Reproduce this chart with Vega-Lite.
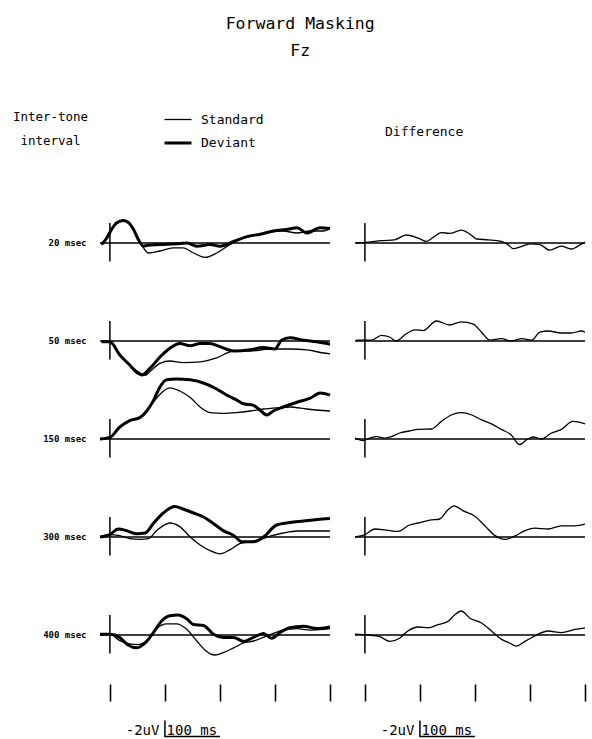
{
"$schema":"https://vega.github.io/schema/vega-lite/v6.json",
"background":"white",
"padding":{"left":12,"top":15,"right":5,"bottom":0},
"title":{"text":["Forward Masking","Fz"],"font":"DejaVu Sans Mono","fontSize":16.5,"fontWeight":"normal","color":"black","anchor":"middle","dx":0,"lineHeight":27,"offset":46},
"datasets":{
"waves":[
{"row":"20 msec","series":"Standard","ms":-15,"uV":0.2},{"row":"20 msec","series":"Standard","ms":-6,"uV":-0.6},{"row":"20 msec","series":"Standard","ms":3,"uV":-1.7},{"row":"20 msec","series":"Standard","ms":12,"uV":-2.4},{"row":"20 msec","series":"Standard","ms":24,"uV":-2.7},{"row":"20 msec","series":"Standard","ms":33,"uV":-2.5},{"row":"20 msec","series":"Standard","ms":43,"uV":-1.7},{"row":"20 msec","series":"Standard","ms":52,"uV":-0.4},{"row":"20 msec","series":"Standard","ms":61,"uV":0.6},{"row":"20 msec","series":"Standard","ms":70,"uV":1.25},{"row":"20 msec","series":"Standard","ms":91,"uV":1.0},{"row":"20 msec","series":"Standard","ms":115,"uV":0.6},{"row":"20 msec","series":"Standard","ms":133,"uV":0.6},{"row":"20 msec","series":"Standard","ms":152,"uV":1.25},{"row":"20 msec","series":"Standard","ms":173,"uV":1.8},{"row":"20 msec","series":"Standard","ms":194,"uV":1.25},{"row":"20 msec","series":"Standard","ms":218,"uV":0.2},{"row":"20 msec","series":"Standard","ms":243,"uV":-0.6},{"row":"20 msec","series":"Standard","ms":267,"uV":-1.0},{"row":"20 msec","series":"Standard","ms":291,"uV":-1.4},{"row":"20 msec","series":"Standard","ms":315,"uV":-1.5},{"row":"20 msec","series":"Standard","ms":340,"uV":-1.25},{"row":"20 msec","series":"Standard","ms":364,"uV":-1.5},{"row":"20 msec","series":"Standard","ms":388,"uV":-1.5},{"row":"20 msec","series":"Standard","ms":400,"uV":-1.8},
{"row":"20 msec","series":"Deviant","ms":-15,"uV":0.2},{"row":"20 msec","series":"Deviant","ms":-6,"uV":-0.6},{"row":"20 msec","series":"Deviant","ms":3,"uV":-1.7},{"row":"20 msec","series":"Deviant","ms":12,"uV":-2.5},{"row":"20 msec","series":"Deviant","ms":24,"uV":-2.8},{"row":"20 msec","series":"Deviant","ms":33,"uV":-2.6},{"row":"20 msec","series":"Deviant","ms":43,"uV":-1.7},{"row":"20 msec","series":"Deviant","ms":52,"uV":-0.4},{"row":"20 msec","series":"Deviant","ms":61,"uV":0.4},{"row":"20 msec","series":"Deviant","ms":67,"uV":0.3},{"row":"20 msec","series":"Deviant","ms":91,"uV":0.2},{"row":"20 msec","series":"Deviant","ms":121,"uV":0.1},{"row":"20 msec","series":"Deviant","ms":140,"uV":0},{"row":"20 msec","series":"Deviant","ms":158,"uV":0.4},{"row":"20 msec","series":"Deviant","ms":182,"uV":0.2},{"row":"20 msec","series":"Deviant","ms":200,"uV":0.4},{"row":"20 msec","series":"Deviant","ms":225,"uV":-0.2},{"row":"20 msec","series":"Deviant","ms":249,"uV":-0.8},{"row":"20 msec","series":"Deviant","ms":273,"uV":-1.1},{"row":"20 msec","series":"Deviant","ms":297,"uV":-1.5},{"row":"20 msec","series":"Deviant","ms":321,"uV":-1.7},{"row":"20 msec","series":"Deviant","ms":340,"uV":-1.9},{"row":"20 msec","series":"Deviant","ms":358,"uV":-1.25},{"row":"20 msec","series":"Deviant","ms":382,"uV":-1.9},{"row":"20 msec","series":"Deviant","ms":400,"uV":-1.8},
{"row":"50 msec","series":"Standard","ms":-15,"uV":0.1},{"row":"50 msec","series":"Standard","ms":0,"uV":0.1},{"row":"50 msec","series":"Standard","ms":18,"uV":1.75},{"row":"50 msec","series":"Standard","ms":36,"uV":3.0},{"row":"50 msec","series":"Standard","ms":55,"uV":4.0},{"row":"50 msec","series":"Standard","ms":64,"uV":4.3},{"row":"50 msec","series":"Standard","ms":73,"uV":3.8},{"row":"50 msec","series":"Standard","ms":91,"uV":2.8},{"row":"50 msec","series":"Standard","ms":109,"uV":2.5},{"row":"50 msec","series":"Standard","ms":133,"uV":2.7},{"row":"50 msec","series":"Standard","ms":164,"uV":2.6},{"row":"50 msec","series":"Standard","ms":194,"uV":2.1},{"row":"50 msec","series":"Standard","ms":225,"uV":1.25},{"row":"50 msec","series":"Standard","ms":255,"uV":1.25},{"row":"50 msec","series":"Standard","ms":291,"uV":1.0},{"row":"50 msec","series":"Standard","ms":327,"uV":1.0},{"row":"50 msec","series":"Standard","ms":358,"uV":1.1},{"row":"50 msec","series":"Standard","ms":388,"uV":1.5},{"row":"50 msec","series":"Standard","ms":400,"uV":1.6},
{"row":"50 msec","series":"Deviant","ms":-15,"uV":0.1},{"row":"50 msec","series":"Deviant","ms":0,"uV":0.1},{"row":"50 msec","series":"Deviant","ms":18,"uV":1.75},{"row":"50 msec","series":"Deviant","ms":36,"uV":3.0},{"row":"50 msec","series":"Deviant","ms":50,"uV":4.0},{"row":"50 msec","series":"Deviant","ms":58,"uV":4.25},{"row":"50 msec","series":"Deviant","ms":73,"uV":3.4},{"row":"50 msec","series":"Deviant","ms":91,"uV":2.0},{"row":"50 msec","series":"Deviant","ms":109,"uV":0.9},{"row":"50 msec","series":"Deviant","ms":127,"uV":0.3},{"row":"50 msec","series":"Deviant","ms":146,"uV":0.6},{"row":"50 msec","series":"Deviant","ms":164,"uV":0.3},{"row":"50 msec","series":"Deviant","ms":182,"uV":0.3},{"row":"50 msec","series":"Deviant","ms":200,"uV":0.7},{"row":"50 msec","series":"Deviant","ms":225,"uV":1.25},{"row":"50 msec","series":"Deviant","ms":255,"uV":1.1},{"row":"50 msec","series":"Deviant","ms":279,"uV":0.8},{"row":"50 msec","series":"Deviant","ms":300,"uV":1.0},{"row":"50 msec","series":"Deviant","ms":312,"uV":-0.1},{"row":"50 msec","series":"Deviant","ms":327,"uV":-0.4},{"row":"50 msec","series":"Deviant","ms":352,"uV":-0.1},{"row":"50 msec","series":"Deviant","ms":376,"uV":0.1},{"row":"50 msec","series":"Deviant","ms":400,"uV":0.4},
{"row":"150 msec","series":"Standard","ms":-18,"uV":0},{"row":"150 msec","series":"Standard","ms":0,"uV":-0.2},{"row":"150 msec","series":"Standard","ms":18,"uV":-1.5},{"row":"150 msec","series":"Standard","ms":36,"uV":-2.3},{"row":"150 msec","series":"Standard","ms":55,"uV":-2.7},{"row":"150 msec","series":"Standard","ms":67,"uV":-3.5},{"row":"150 msec","series":"Standard","ms":79,"uV":-4.6},{"row":"150 msec","series":"Standard","ms":91,"uV":-5.6},{"row":"150 msec","series":"Standard","ms":109,"uV":-6.4},{"row":"150 msec","series":"Standard","ms":127,"uV":-6.0},{"row":"150 msec","series":"Standard","ms":146,"uV":-5.2},{"row":"150 msec","series":"Standard","ms":164,"uV":-4.0},{"row":"150 msec","series":"Standard","ms":182,"uV":-3.3},{"row":"150 msec","series":"Standard","ms":206,"uV":-3.2},{"row":"150 msec","series":"Standard","ms":230,"uV":-3.3},{"row":"150 msec","series":"Standard","ms":255,"uV":-3.5},{"row":"150 msec","series":"Standard","ms":279,"uV":-3.75},{"row":"150 msec","series":"Standard","ms":303,"uV":-3.9},{"row":"150 msec","series":"Standard","ms":327,"uV":-4.0},{"row":"150 msec","series":"Standard","ms":358,"uV":-3.75},{"row":"150 msec","series":"Standard","ms":400,"uV":-3.5},
{"row":"150 msec","series":"Deviant","ms":-18,"uV":0},{"row":"150 msec","series":"Deviant","ms":0,"uV":-0.2},{"row":"150 msec","series":"Deviant","ms":18,"uV":-1.5},{"row":"150 msec","series":"Deviant","ms":36,"uV":-2.3},{"row":"150 msec","series":"Deviant","ms":55,"uV":-2.7},{"row":"150 msec","series":"Deviant","ms":67,"uV":-3.5},{"row":"150 msec","series":"Deviant","ms":79,"uV":-4.8},{"row":"150 msec","series":"Deviant","ms":91,"uV":-6.5},{"row":"150 msec","series":"Deviant","ms":103,"uV":-7.4},{"row":"150 msec","series":"Deviant","ms":121,"uV":-7.5},{"row":"150 msec","series":"Deviant","ms":146,"uV":-7.4},{"row":"150 msec","series":"Deviant","ms":170,"uV":-7.0},{"row":"150 msec","series":"Deviant","ms":194,"uV":-6.25},{"row":"150 msec","series":"Deviant","ms":212,"uV":-5.5},{"row":"150 msec","series":"Deviant","ms":230,"uV":-4.9},{"row":"150 msec","series":"Deviant","ms":243,"uV":-4.4},{"row":"150 msec","series":"Deviant","ms":261,"uV":-4.2},{"row":"150 msec","series":"Deviant","ms":273,"uV":-3.6},{"row":"150 msec","series":"Deviant","ms":285,"uV":-3.0},{"row":"150 msec","series":"Deviant","ms":297,"uV":-3.5},{"row":"150 msec","series":"Deviant","ms":315,"uV":-4.0},{"row":"150 msec","series":"Deviant","ms":340,"uV":-4.6},{"row":"150 msec","series":"Deviant","ms":364,"uV":-5.1},{"row":"150 msec","series":"Deviant","ms":382,"uV":-5.75},{"row":"150 msec","series":"Deviant","ms":400,"uV":-5.5},
{"row":"300 msec","series":"Standard","ms":-18,"uV":0},{"row":"300 msec","series":"Standard","ms":0,"uV":-0.3},{"row":"300 msec","series":"Standard","ms":15,"uV":-0.2},{"row":"300 msec","series":"Standard","ms":36,"uV":0.2},{"row":"300 msec","series":"Standard","ms":55,"uV":0.3},{"row":"300 msec","series":"Standard","ms":70,"uV":0.2},{"row":"300 msec","series":"Standard","ms":85,"uV":-0.8},{"row":"300 msec","series":"Standard","ms":109,"uV":-1.75},{"row":"300 msec","series":"Standard","ms":127,"uV":-1.3},{"row":"300 msec","series":"Standard","ms":146,"uV":0},{"row":"300 msec","series":"Standard","ms":164,"uV":1.0},{"row":"300 msec","series":"Standard","ms":182,"uV":1.7},{"row":"300 msec","series":"Standard","ms":200,"uV":2.1},{"row":"300 msec","series":"Standard","ms":218,"uV":1.6},{"row":"300 msec","series":"Standard","ms":237,"uV":0.8},{"row":"300 msec","series":"Standard","ms":255,"uV":0.6},{"row":"300 msec","series":"Standard","ms":273,"uV":0.3},{"row":"300 msec","series":"Standard","ms":291,"uV":-0.1},{"row":"300 msec","series":"Standard","ms":315,"uV":-0.5},{"row":"300 msec","series":"Standard","ms":340,"uV":-0.75},{"row":"300 msec","series":"Standard","ms":364,"uV":-0.75},{"row":"300 msec","series":"Standard","ms":400,"uV":-0.75},
{"row":"300 msec","series":"Deviant","ms":-18,"uV":0},{"row":"300 msec","series":"Deviant","ms":0,"uV":-0.3},{"row":"300 msec","series":"Deviant","ms":15,"uV":-1.0},{"row":"300 msec","series":"Deviant","ms":30,"uV":-0.8},{"row":"300 msec","series":"Deviant","ms":49,"uV":-0.4},{"row":"300 msec","series":"Deviant","ms":64,"uV":-0.5},{"row":"300 msec","series":"Deviant","ms":79,"uV":-1.7},{"row":"300 msec","series":"Deviant","ms":97,"uV":-3.0},{"row":"300 msec","series":"Deviant","ms":118,"uV":-3.8},{"row":"300 msec","series":"Deviant","ms":133,"uV":-3.5},{"row":"300 msec","series":"Deviant","ms":152,"uV":-3.0},{"row":"300 msec","series":"Deviant","ms":170,"uV":-2.5},{"row":"300 msec","series":"Deviant","ms":188,"uV":-1.7},{"row":"300 msec","series":"Deviant","ms":206,"uV":-0.8},{"row":"300 msec","series":"Deviant","ms":225,"uV":-0.2},{"row":"300 msec","series":"Deviant","ms":240,"uV":0.6},{"row":"300 msec","series":"Deviant","ms":261,"uV":0.6},{"row":"300 msec","series":"Deviant","ms":279,"uV":0},{"row":"300 msec","series":"Deviant","ms":303,"uV":-1.5},{"row":"300 msec","series":"Deviant","ms":327,"uV":-1.8},{"row":"300 msec","series":"Deviant","ms":352,"uV":-2.0},{"row":"300 msec","series":"Deviant","ms":376,"uV":-2.2},{"row":"300 msec","series":"Deviant","ms":400,"uV":-2.3},
{"row":"400 msec","series":"Standard","ms":-18,"uV":-0.1},{"row":"400 msec","series":"Standard","ms":0,"uV":-0.1},{"row":"400 msec","series":"Standard","ms":18,"uV":0.7},{"row":"400 msec","series":"Standard","ms":36,"uV":1.1},{"row":"400 msec","series":"Standard","ms":52,"uV":1.2},{"row":"400 msec","series":"Standard","ms":70,"uV":0.5},{"row":"400 msec","series":"Standard","ms":85,"uV":-0.8},{"row":"400 msec","series":"Standard","ms":103,"uV":-1.4},{"row":"400 msec","series":"Standard","ms":121,"uV":-1.4},{"row":"400 msec","series":"Standard","ms":140,"uV":-0.7},{"row":"400 msec","series":"Standard","ms":158,"uV":0.75},{"row":"400 msec","series":"Standard","ms":173,"uV":1.9},{"row":"400 msec","series":"Standard","ms":191,"uV":2.5},{"row":"400 msec","series":"Standard","ms":206,"uV":2.2},{"row":"400 msec","series":"Standard","ms":225,"uV":1.6},{"row":"400 msec","series":"Standard","ms":243,"uV":1.0},{"row":"400 msec","series":"Standard","ms":261,"uV":0.75},{"row":"400 msec","series":"Standard","ms":279,"uV":0.3},{"row":"400 msec","series":"Standard","ms":297,"uV":-0.2},{"row":"400 msec","series":"Standard","ms":315,"uV":-0.6},{"row":"400 msec","series":"Standard","ms":340,"uV":-0.8},{"row":"400 msec","series":"Standard","ms":364,"uV":-0.6},{"row":"400 msec","series":"Standard","ms":388,"uV":-0.7},{"row":"400 msec","series":"Standard","ms":400,"uV":-0.8},
{"row":"400 msec","series":"Deviant","ms":-18,"uV":-0.1},{"row":"400 msec","series":"Deviant","ms":0,"uV":-0.1},{"row":"400 msec","series":"Deviant","ms":18,"uV":0.3},{"row":"400 msec","series":"Deviant","ms":33,"uV":1.25},{"row":"400 msec","series":"Deviant","ms":49,"uV":1.6},{"row":"400 msec","series":"Deviant","ms":64,"uV":1.0},{"row":"400 msec","series":"Deviant","ms":79,"uV":-0.3},{"row":"400 msec","series":"Deviant","ms":94,"uV":-1.75},{"row":"400 msec","series":"Deviant","ms":109,"uV":-2.4},{"row":"400 msec","series":"Deviant","ms":124,"uV":-2.5},{"row":"400 msec","series":"Deviant","ms":140,"uV":-2.0},{"row":"400 msec","series":"Deviant","ms":152,"uV":-1.3},{"row":"400 msec","series":"Deviant","ms":170,"uV":-1.2},{"row":"400 msec","series":"Deviant","ms":188,"uV":-0.1},{"row":"400 msec","series":"Deviant","ms":206,"uV":0.3},{"row":"400 msec","series":"Deviant","ms":225,"uV":0.3},{"row":"400 msec","series":"Deviant","ms":243,"uV":0.8},{"row":"400 msec","series":"Deviant","ms":261,"uV":0.3},{"row":"400 msec","series":"Deviant","ms":279,"uV":-0.2},{"row":"400 msec","series":"Deviant","ms":294,"uV":0.4},{"row":"400 msec","series":"Deviant","ms":309,"uV":-0.3},{"row":"400 msec","series":"Deviant","ms":327,"uV":-0.9},{"row":"400 msec","series":"Deviant","ms":352,"uV":-1.1},{"row":"400 msec","series":"Deviant","ms":376,"uV":-0.8},{"row":"400 msec","series":"Deviant","ms":400,"uV":-1.0},
{"row":"20 msec","series":"Difference","ms":-16,"uV":0},{"row":"20 msec","series":"Difference","ms":6,"uV":-0.1},{"row":"20 msec","series":"Difference","ms":30,"uV":-0.3},{"row":"20 msec","series":"Difference","ms":54,"uV":-0.4},{"row":"20 msec","series":"Difference","ms":75,"uV":-1.0},{"row":"20 msec","series":"Difference","ms":97,"uV":-0.6},{"row":"20 msec","series":"Difference","ms":112,"uV":-0.2},{"row":"20 msec","series":"Difference","ms":124,"uV":-0.7},{"row":"20 msec","series":"Difference","ms":139,"uV":-1.3},{"row":"20 msec","series":"Difference","ms":154,"uV":-1.2},{"row":"20 msec","series":"Difference","ms":175,"uV":-1.6},{"row":"20 msec","series":"Difference","ms":191,"uV":-1.1},{"row":"20 msec","series":"Difference","ms":203,"uV":-0.5},{"row":"20 msec","series":"Difference","ms":224,"uV":-0.4},{"row":"20 msec","series":"Difference","ms":248,"uV":-0.2},{"row":"20 msec","series":"Difference","ms":260,"uV":0.2},{"row":"20 msec","series":"Difference","ms":269,"uV":0.7},{"row":"20 msec","series":"Difference","ms":284,"uV":0.45},{"row":"20 msec","series":"Difference","ms":300,"uV":0.1},{"row":"20 msec","series":"Difference","ms":318,"uV":0.2},{"row":"20 msec","series":"Difference","ms":336,"uV":0.9},{"row":"20 msec","series":"Difference","ms":357,"uV":0.4},{"row":"20 msec","series":"Difference","ms":375,"uV":0.75},{"row":"20 msec","series":"Difference","ms":394,"uV":0.1},{"row":"20 msec","series":"Difference","ms":400,"uV":-0.1},
{"row":"50 msec","series":"Difference","ms":-16,"uV":-0.1},{"row":"50 msec","series":"Difference","ms":12,"uV":-0.1},{"row":"50 msec","series":"Difference","ms":30,"uV":-0.7},{"row":"50 msec","series":"Difference","ms":45,"uV":-0.5},{"row":"50 msec","series":"Difference","ms":57,"uV":0},{"row":"50 msec","series":"Difference","ms":75,"uV":-0.9},{"row":"50 msec","series":"Difference","ms":91,"uV":-1.4},{"row":"50 msec","series":"Difference","ms":106,"uV":-1.3},{"row":"50 msec","series":"Difference","ms":130,"uV":-2.5},{"row":"50 msec","series":"Difference","ms":154,"uV":-2.0},{"row":"50 msec","series":"Difference","ms":175,"uV":-2.4},{"row":"50 msec","series":"Difference","ms":197,"uV":-2.1},{"row":"50 msec","series":"Difference","ms":212,"uV":-1.1},{"row":"50 msec","series":"Difference","ms":227,"uV":-0.1},{"row":"50 msec","series":"Difference","ms":248,"uV":-0.3},{"row":"50 msec","series":"Difference","ms":266,"uV":0},{"row":"50 msec","series":"Difference","ms":285,"uV":-0.3},{"row":"50 msec","series":"Difference","ms":303,"uV":-0.1},{"row":"50 msec","series":"Difference","ms":318,"uV":-1.1},{"row":"50 msec","series":"Difference","ms":333,"uV":-1.25},{"row":"50 msec","series":"Difference","ms":357,"uV":-1.0},{"row":"50 msec","series":"Difference","ms":375,"uV":-1.0},{"row":"50 msec","series":"Difference","ms":394,"uV":-1.25},{"row":"50 msec","series":"Difference","ms":400,"uV":-1.1},
{"row":"150 msec","series":"Difference","ms":-18,"uV":-0.1},{"row":"150 msec","series":"Difference","ms":-3,"uV":0.2},{"row":"150 msec","series":"Difference","ms":9,"uV":-0.1},{"row":"150 msec","series":"Difference","ms":21,"uV":-0.3},{"row":"150 msec","series":"Difference","ms":36,"uV":-0.1},{"row":"150 msec","series":"Difference","ms":48,"uV":-0.3},{"row":"150 msec","series":"Difference","ms":63,"uV":-0.75},{"row":"150 msec","series":"Difference","ms":81,"uV":-1.0},{"row":"150 msec","series":"Difference","ms":97,"uV":-1.2},{"row":"150 msec","series":"Difference","ms":121,"uV":-1.25},{"row":"150 msec","series":"Difference","ms":139,"uV":-2.2},{"row":"150 msec","series":"Difference","ms":157,"uV":-3.0},{"row":"150 msec","series":"Difference","ms":175,"uV":-3.3},{"row":"150 msec","series":"Difference","ms":194,"uV":-3.0},{"row":"150 msec","series":"Difference","ms":212,"uV":-2.4},{"row":"150 msec","series":"Difference","ms":230,"uV":-1.9},{"row":"150 msec","series":"Difference","ms":248,"uV":-1.2},{"row":"150 msec","series":"Difference","ms":266,"uV":-0.5},{"row":"150 msec","series":"Difference","ms":281,"uV":0.7},{"row":"150 msec","series":"Difference","ms":294,"uV":0.1},{"row":"150 msec","series":"Difference","ms":306,"uV":-0.25},{"row":"150 msec","series":"Difference","ms":321,"uV":0},{"row":"150 msec","series":"Difference","ms":339,"uV":-0.75},{"row":"150 msec","series":"Difference","ms":357,"uV":-1.2},{"row":"150 msec","series":"Difference","ms":378,"uV":-2.2},{"row":"150 msec","series":"Difference","ms":400,"uV":-1.9},
{"row":"300 msec","series":"Difference","ms":-18,"uV":0},{"row":"300 msec","series":"Difference","ms":0,"uV":-0.3},{"row":"300 msec","series":"Difference","ms":18,"uV":-1.0},{"row":"300 msec","series":"Difference","ms":36,"uV":-0.9},{"row":"300 msec","series":"Difference","ms":60,"uV":-0.7},{"row":"300 msec","series":"Difference","ms":81,"uV":-1.5},{"row":"300 msec","series":"Difference","ms":97,"uV":-1.75},{"row":"300 msec","series":"Difference","ms":118,"uV":-2.1},{"row":"300 msec","series":"Difference","ms":136,"uV":-2.25},{"row":"300 msec","series":"Difference","ms":151,"uV":-3.4},{"row":"300 msec","series":"Difference","ms":162,"uV":-3.9},{"row":"300 msec","series":"Difference","ms":178,"uV":-3.3},{"row":"300 msec","series":"Difference","ms":200,"uV":-2.6},{"row":"300 msec","series":"Difference","ms":218,"uV":-1.4},{"row":"300 msec","series":"Difference","ms":236,"uV":-0.2},{"row":"300 msec","series":"Difference","ms":254,"uV":0.3},{"row":"300 msec","series":"Difference","ms":272,"uV":-0.1},{"row":"300 msec","series":"Difference","ms":291,"uV":-0.8},{"row":"300 msec","series":"Difference","ms":309,"uV":-1.1},{"row":"300 msec","series":"Difference","ms":333,"uV":-1.0},{"row":"300 msec","series":"Difference","ms":357,"uV":-1.4},{"row":"300 msec","series":"Difference","ms":382,"uV":-1.4},{"row":"300 msec","series":"Difference","ms":400,"uV":-1.6},
{"row":"400 msec","series":"Difference","ms":-18,"uV":-0.1},{"row":"400 msec","series":"Difference","ms":6,"uV":0},{"row":"400 msec","series":"Difference","ms":27,"uV":0.2},{"row":"400 msec","series":"Difference","ms":45,"uV":0.8},{"row":"400 msec","series":"Difference","ms":63,"uV":0.4},{"row":"400 msec","series":"Difference","ms":78,"uV":-0.5},{"row":"400 msec","series":"Difference","ms":97,"uV":-1.0},{"row":"400 msec","series":"Difference","ms":115,"uV":-0.9},{"row":"400 msec","series":"Difference","ms":133,"uV":-1.3},{"row":"400 msec","series":"Difference","ms":151,"uV":-1.7},{"row":"400 msec","series":"Difference","ms":163,"uV":-2.5},{"row":"400 msec","series":"Difference","ms":175,"uV":-3.0},{"row":"400 msec","series":"Difference","ms":191,"uV":-2.1},{"row":"400 msec","series":"Difference","ms":212,"uV":-1.5},{"row":"400 msec","series":"Difference","ms":230,"uV":-0.5},{"row":"400 msec","series":"Difference","ms":245,"uV":0.4},{"row":"400 msec","series":"Difference","ms":263,"uV":1.0},{"row":"400 msec","series":"Difference","ms":275,"uV":1.4},{"row":"400 msec","series":"Difference","ms":291,"uV":0.8},{"row":"400 msec","series":"Difference","ms":309,"uV":0.1},{"row":"400 msec","series":"Difference","ms":333,"uV":-0.5},{"row":"400 msec","series":"Difference","ms":357,"uV":-0.3},{"row":"400 msec","series":"Difference","ms":382,"uV":-0.7},{"row":"400 msec","series":"Difference","ms":400,"uV":-0.9}
],
"base":[
{"row":"20 msec","ms":-18,"uV":0},{"row":"20 msec","ms":400,"uV":0},
{"row":"50 msec","ms":-18,"uV":0},{"row":"50 msec","ms":400,"uV":0},
{"row":"150 msec","ms":-18,"uV":0},{"row":"150 msec","ms":400,"uV":0},
{"row":"300 msec","ms":-18,"uV":0},{"row":"300 msec","ms":400,"uV":0},
{"row":"400 msec","ms":-18,"uV":0},{"row":"400 msec","ms":400,"uV":0}
],
"onset":[
{"row":"20 msec","ms":0,"uV":-2.5},{"row":"20 msec","ms":0,"uV":2.3},
{"row":"50 msec","ms":0,"uV":-2.5},{"row":"50 msec","ms":0,"uV":2.3},
{"row":"150 msec","ms":0,"uV":-2.5},{"row":"150 msec","ms":0,"uV":2.3},
{"row":"300 msec","ms":0,"uV":-2.5},{"row":"300 msec","ms":0,"uV":2.3},
{"row":"400 msec","ms":0,"uV":-2.5},{"row":"400 msec","ms":0,"uV":2.3}
],
"calib":[
{"row":"400 msec","step":1,"ms":100,"uV":10.7},{"row":"400 msec","step":2,"ms":100,"uV":12.7},{"row":"400 msec","step":3,"ms":200,"uV":12.7}
],
"calibtext":[
{"row":"400 msec","label":"-2uV","ms":90,"uV":12.5,"side":"right"},
{"row":"400 msec","label":"100 ms","ms":103,"uV":12.5,"side":"left"}
]
},
"spacing":16,
"hconcat":[
{
"width":230,"height":490,
"layer":[
{"data":{"name":"base"},"mark":{"type":"line","color":"black","strokeWidth":1.5},
 "encoding":{"x":{"field":"ms","type":"quantitative","scale":{"domain":[-18,400],"nice":false,"zero":false},
   "axis":{"values":[0,100,200,300,400],"labels":false,"domain":false,"grid":false,"ticks":true,"tickSize":17,"tickWidth":1.6,"tickColor":"black","title":null}},
  "y":{"field":"row","type":"nominal","sort":["20 msec","50 msec","150 msec","300 msec","400 msec"],"scale":{"paddingInner":0,"paddingOuter":0},
   "axis":{"title":["Inter-tone","interval"],"titleAngle":0,"titleAlign":"center","titleBaseline":"alphabetic","titleX":-50,"titleY":-74,"titleFont":"DejaVu Sans Mono","titleFontSize":12.5,"titleFontWeight":"normal","titleColor":"black","titleLineHeight":24,
    "labelFont":"DejaVu Sans Mono","labelFontSize":9,"labelFontWeight":"bold","labelColor":"black","labelPadding":14,"ticks":false,"domain":false,"grid":false}},
  "yOffset":{"field":"uV","type":"quantitative","scale":{"domain":[-6.125,6.125],"nice":false,"zero":false}},
  "detail":{"field":"row"}}},
{"data":{"name":"onset"},"mark":{"type":"line","color":"black","strokeWidth":1.5},
 "encoding":{"x":{"field":"ms","type":"quantitative"},"y":{"field":"row","type":"nominal","sort":["20 msec","50 msec","150 msec","300 msec","400 msec"]},"yOffset":{"field":"uV","type":"quantitative"},"detail":{"field":"row"}}},
{"data":{"name":"waves"},"transform":[{"filter":"datum.series !== 'Difference'"}],
 "mark":{"type":"line","color":"black","interpolate":"monotone"},
 "encoding":{"x":{"field":"ms","type":"quantitative"},"y":{"field":"row","type":"nominal","sort":["20 msec","50 msec","150 msec","300 msec","400 msec"]},"yOffset":{"field":"uV","type":"quantitative"},
  "strokeWidth":{"field":"series","type":"nominal","scale":{"domain":["Standard","Deviant"],"range":[1.3,3]},
   "legend":{"orient":"none","legendX":63,"legendY":-89,"title":null,"symbolType":"stroke","symbolStrokeColor":"black","symbolSize":729,"labelFont":"DejaVu Sans Mono","labelFontSize":13,"labelColor":"black","labelOffset":8,"rowPadding":1}},
  "detail":{"field":"row"},"order":{"field":"ms"}}},
{"data":{"name":"calib"},"mark":{"type":"line","color":"black","strokeWidth":1.5},
 "encoding":{"x":{"field":"ms","type":"quantitative"},"y":{"field":"row","type":"nominal","sort":["20 msec","50 msec","150 msec","300 msec","400 msec"]},"yOffset":{"field":"uV","type":"quantitative"},"order":{"field":"step"}}},
{"data":{"name":"calibtext"},"transform":[{"filter":"datum.side === 'right'"}],"mark":{"type":"text","font":"DejaVu Sans Mono","fontSize":14,"color":"black","baseline":"alphabetic","align":"right"},
 "encoding":{"x":{"field":"ms","type":"quantitative"},"y":{"field":"row","type":"nominal","sort":["20 msec","50 msec","150 msec","300 msec","400 msec"]},"yOffset":{"field":"uV","type":"quantitative"},"text":{"field":"label"}}},
{"data":{"name":"calibtext"},"transform":[{"filter":"datum.side === 'left'"}],"mark":{"type":"text","font":"DejaVu Sans Mono","fontSize":14,"color":"black","baseline":"alphabetic","align":"left"},
 "encoding":{"x":{"field":"ms","type":"quantitative"},"y":{"field":"row","type":"nominal","sort":["20 msec","50 msec","150 msec","300 msec","400 msec"]},"yOffset":{"field":"uV","type":"quantitative"},"text":{"field":"label"}}}
]
},
{
"width":230,"height":490,
"title":{"text":"Difference","anchor":"start","dx":33,"offset":55,"font":"DejaVu Sans Mono","fontSize":13,"fontWeight":"normal","color":"black"},
"layer":[
{"data":{"name":"base"},"mark":{"type":"line","color":"black","strokeWidth":1.5},
 "encoding":{"x":{"field":"ms","type":"quantitative","scale":{"domain":[-18,400],"nice":false,"zero":false},
   "axis":{"values":[0,100,200,300,400],"labels":false,"domain":false,"grid":false,"ticks":true,"tickSize":17,"tickWidth":1.6,"tickColor":"black","title":null}},
  "y":{"field":"row","type":"nominal","sort":["20 msec","50 msec","150 msec","300 msec","400 msec"],"scale":{"paddingInner":0,"paddingOuter":0},"axis":null},
  "yOffset":{"field":"uV","type":"quantitative","scale":{"domain":[-6.125,6.125],"nice":false,"zero":false}},
  "detail":{"field":"row"}}},
{"data":{"name":"onset"},"mark":{"type":"line","color":"black","strokeWidth":1.5},
 "encoding":{"x":{"field":"ms","type":"quantitative"},"y":{"field":"row","type":"nominal","sort":["20 msec","50 msec","150 msec","300 msec","400 msec"]},"yOffset":{"field":"uV","type":"quantitative"},"detail":{"field":"row"}}},
{"data":{"name":"waves"},"transform":[{"filter":"datum.series === 'Difference'"}],
 "mark":{"type":"line","color":"black","interpolate":"monotone","strokeWidth":1.3},
 "encoding":{"x":{"field":"ms","type":"quantitative"},"y":{"field":"row","type":"nominal","sort":["20 msec","50 msec","150 msec","300 msec","400 msec"]},"yOffset":{"field":"uV","type":"quantitative"},
  "detail":{"field":"row"},"order":{"field":"ms"}}},
{"data":{"name":"calib"},"mark":{"type":"line","color":"black","strokeWidth":1.5},
 "encoding":{"x":{"field":"ms","type":"quantitative"},"y":{"field":"row","type":"nominal","sort":["20 msec","50 msec","150 msec","300 msec","400 msec"]},"yOffset":{"field":"uV","type":"quantitative"},"order":{"field":"step"}}},
{"data":{"name":"calibtext"},"transform":[{"filter":"datum.side === 'right'"}],"mark":{"type":"text","font":"DejaVu Sans Mono","fontSize":14,"color":"black","baseline":"alphabetic","align":"right"},
 "encoding":{"x":{"field":"ms","type":"quantitative"},"y":{"field":"row","type":"nominal","sort":["20 msec","50 msec","150 msec","300 msec","400 msec"]},"yOffset":{"field":"uV","type":"quantitative"},"text":{"field":"label"}}},
{"data":{"name":"calibtext"},"transform":[{"filter":"datum.side === 'left'"}],"mark":{"type":"text","font":"DejaVu Sans Mono","fontSize":14,"color":"black","baseline":"alphabetic","align":"left"},
 "encoding":{"x":{"field":"ms","type":"quantitative"},"y":{"field":"row","type":"nominal","sort":["20 msec","50 msec","150 msec","300 msec","400 msec"]},"yOffset":{"field":"uV","type":"quantitative"},"text":{"field":"label"}}}
]
}
],
"config":{"view":{"stroke":null},"font":"DejaVu Sans Mono"}
}
